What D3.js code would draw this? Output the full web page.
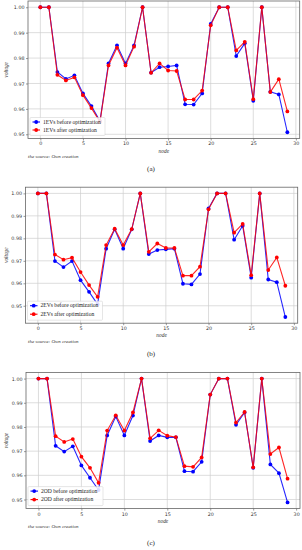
<!DOCTYPE html>
<html>
<head>
<meta charset="utf-8">
<script src="https://cdn.jsdelivr.net/npm/d3@7"></script>
<style>
  body { margin: 0; background: #fff; }
  svg { display: block; }
  .tick text { font-family: "DejaVu Sans", sans-serif; font-size: 4.8px; fill: #333; }
  .serif { font-family: "Liberation Serif", "DejaVu Serif", serif; }
</style>
</head>
<body>
<svg id="chart" width="302" height="550"></svg>
<script>
const nodes = d3.range(30);

const aBefore = [1.000, 1.000, 0.9745, 0.9718, 0.9732, 0.9661, 0.9611, 0.9552, 0.9779, 0.9850,
  0.9779, 0.9850, 1.000, 0.9743, 0.9764, 0.9767, 0.9771, 0.9618, 0.9617, 0.9661,
  0.9934, 1.000, 1.000, 0.9808, 0.9858, 0.9632, 1.000, 0.9667, 0.9657, 0.9508];
const aAfter = [1.000, 1.000, 0.9734, 0.9712, 0.9724, 0.9654, 0.9603, 0.9549, 0.9771, 0.9841,
  0.9771, 0.9845, 1.000, 0.9742, 0.9779, 0.9751, 0.9749, 0.9637, 0.9637, 0.9672,
  0.9929, 1.000, 1.000, 0.9830, 0.9864, 0.9638, 1.000, 0.9666, 0.9717, 0.9590];

const bBefore = [1.000, 1.000, 0.9699, 0.9672, 0.9699, 0.9614, 0.9562, 0.9507, 0.9754, 0.9840,
  0.9754, 0.9840, 1.000, 0.9730, 0.9748, 0.9751, 0.9754, 0.9598, 0.9595, 0.9641,
  0.9933, 1.000, 1.000, 0.9794, 0.9856, 0.9625, 1.000, 0.9617, 0.9605, 0.9450];
const bAfter = [1.000, 1.000, 0.9728, 0.9705, 0.9714, 0.9650, 0.9592, 0.9540, 0.9770, 0.9843,
  0.9770, 0.9841, 1.000, 0.9740, 0.9777, 0.9757, 0.9757, 0.9634, 0.9634, 0.9674,
  0.9929, 1.000, 1.000, 0.9825, 0.9864, 0.9636, 1.000, 0.9659, 0.9715, 0.9589];

const cBefore = [1.000, 1.000, 0.9722, 0.9698, 0.9720, 0.9641, 0.9590, 0.9539, 0.9765, 0.9843,
  0.9765, 0.9847, 1.000, 0.9742, 0.9765, 0.9757, 0.9757, 0.9617, 0.9615, 0.9656,
  0.9934, 1.000, 1.000, 0.9809, 0.9860, 0.9631, 1.000, 0.9645, 0.9609, 0.9488];
const cAfter = [1.000, 1.000, 0.9762, 0.9738, 0.9750, 0.9677, 0.9631, 0.9569, 0.9785, 0.9848,
  0.9785, 0.9860, 1.000, 0.9753, 0.9786, 0.9764, 0.9758, 0.9638, 0.9635, 0.9674,
  0.9934, 1.000, 1.000, 0.9818, 0.9862, 0.9633, 1.000, 0.9688, 0.9715, 0.9586];

const xTicks = [0, 5, 10, 15, 20, 25, 30];
const yTicks = [0.95, 0.96, 0.97, 0.98, 0.99, 1.00];

const panels = [
  { before: aBefore, after: aAfter, name: '1EVs', tag: '(a)', left: 28, right: 299.7, top: 1, bottom: 138.5, legendRows: 8, tagY: 171 },
  { before: bBefore, after: bAfter, name: '2EVs', tag: '(b)', left: 25.5, right: 297.7, top: 187.2, bottom: 323.2, legendRows: 8.5, tagY: 356 },
  { before: cBefore, after: cAfter, name: '2OD', tag: '(c)', left: 26, right: 300, top: 372.4, bottom: 508.6, legendRows: 8.5, tagY: 545 }
];

const svg = d3.select('#chart');

function drawPanel(p) {
  const g = svg.append('g');
  const all = p.before.concat(p.after);
  const [lo, hi] = d3.extent(all);
  const pad = (hi - lo) * 0.05;

  const x = d3.scaleLinear().domain([-1.45, 30.45]).range([p.left, p.right]);
  const y = d3.scaleLinear().domain([lo - pad, hi + pad]).range([p.bottom, p.top]);

  // grid
  g.selectAll('.gx').data(xTicks.filter(t => x(t) < p.right)).enter().append('line')
    .attr('x1', d => x(d)).attr('x2', d => x(d))
    .attr('y1', p.top).attr('y2', p.bottom)
    .attr('stroke', '#cfcfcf').attr('stroke-width', 0.7);
  g.selectAll('.gy').data(yTicks.filter(t => y(t) > p.top)).enter().append('line')
    .attr('x1', p.left).attr('x2', p.right)
    .attr('y1', d => y(d)).attr('y2', d => y(d))
    .attr('stroke', '#cfcfcf').attr('stroke-width', 0.7);

  // axes
  const xAxis = d3.axisBottom(x).tickValues(xTicks).tickSize(2).tickPadding(1.5).tickFormat(d3.format('d'));
  const yAxis = d3.axisLeft(y).tickValues(yTicks.filter(t => y(t) > p.top)).tickSize(2).tickPadding(1.5).tickFormat(d3.format('.2f'));
  const gx = g.append('g').attr('transform', `translate(0,${p.bottom})`).call(xAxis);
  const gy = g.append('g').attr('transform', `translate(${p.left},0)`).call(yAxis);
  [gx, gy].forEach(a => {
    a.select('.domain').remove();
    a.selectAll('.tick line').attr('stroke', '#555').attr('stroke-width', 0.6);
  });

  // frame
  g.append('rect')
    .attr('x', p.left).attr('y', p.top)
    .attr('width', p.right - p.left).attr('height', p.bottom - p.top)
    .attr('fill', 'none').attr('stroke', '#666').attr('stroke-width', 0.8);

  const line = d3.line().x((d, i) => x(i)).y(d => y(d));
  const series = [
    { values: p.before, color: '#0000ff', label: p.name + ' before optimization' },
    { values: p.after, color: '#ff0000', label: p.name + ' after optimization' }
  ];
  series.forEach(s => {
    g.append('path').datum(s.values)
      .attr('d', line).attr('fill', 'none')
      .attr('stroke', s.color).attr('stroke-width', 1.1).attr('stroke-opacity', 0.85);
    g.selectAll(null).data(s.values).enter().append('circle')
      .attr('cx', (d, i) => x(nodes[i])).attr('cy', d => y(d))
      .attr('r', 1.9).attr('fill', s.color);
  });

  // legend
  const lh = p.legendRows * 2 + 2;
  const lx = p.left + 2, ly = p.bottom - 3 - lh;
  const lg = g.append('g').attr('transform', `translate(${lx},${ly})`);
  lg.append('rect').attr('width', 75).attr('height', lh).attr('rx', 1)
    .attr('fill', 'rgba(255,255,255,0.85)').attr('stroke', '#ccc').attr('stroke-width', 0.5);
  series.forEach((s, i) => {
    const cy = 4.5 + i * p.legendRows;
    lg.append('line').attr('x1', 2.5).attr('x2', 10).attr('y1', cy).attr('y2', cy)
      .attr('stroke', s.color).attr('stroke-width', 1.1);
    lg.append('circle').attr('cx', 6.2).attr('cy', cy).attr('r', 1.9).attr('fill', s.color);
    lg.append('text').attr('class', 'serif').attr('x', 13).attr('y', cy + 1.8)
      .attr('font-size', 5.6).attr('fill', '#222').text(s.label);
  });

  // labels
  g.append('text').attr('class', 'serif')
    .attr('transform', `translate(7.5,${(p.top + p.bottom) / 2}) rotate(-90)`)
    .attr('text-anchor', 'middle').attr('font-size', 5.2).attr('font-style', 'italic').attr('fill', '#333')
    .text('voltage');
  g.append('text').attr('class', 'serif')
    .attr('x', (p.left + p.right) / 2).attr('y', p.bottom + 14)
    .attr('text-anchor', 'middle').attr('font-size', 5.4).attr('font-style', 'italic').attr('fill', '#333')
    .text('node');
  g.append('text').attr('class', 'serif')
    .attr('x', 28).attr('y', p.bottom + 19.5)
    .attr('font-size', 5).attr('font-style', 'italic').attr('fill', '#333')
    .text('the source: Own creation');
  g.append('text').attr('class', 'serif')
    .attr('x', 151).attr('y', p.tagY)
    .attr('text-anchor', 'middle').attr('font-size', 7).attr('fill', '#222')
    .text(p.tag);
}

panels.forEach(drawPanel);
</script>
</body>
</html>
